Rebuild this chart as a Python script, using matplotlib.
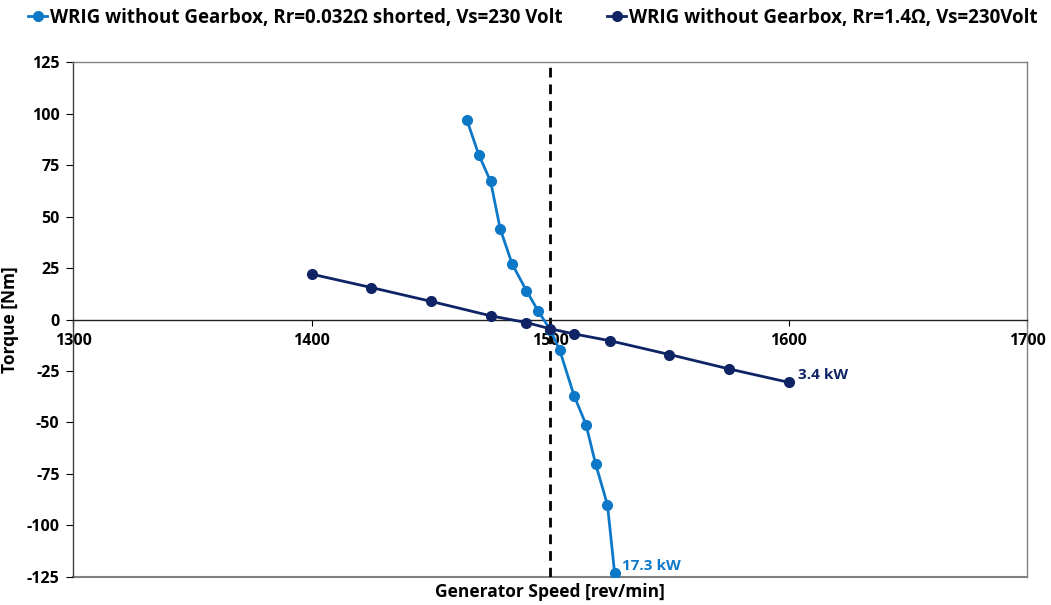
import matplotlib
matplotlib.use("Agg")
import matplotlib.pyplot as plt

plt.rcParams['font.family'] = ['Open Sans', 'DejaVu Sans']
plt.rcParams['font.weight'] = 'bold'
plt.rcParams['axes.unicode_minus'] = False

# Rotor shorted, Rr = 0.032 ohm
speed_short = [1465, 1470, 1475, 1479, 1484, 1490, 1495, 1500, 1504, 1510, 1515, 1519, 1524, 1527]
torque_short = [97, 80, 67, 44, 27, 14, 4, -5, -15, -37, -51, -70, -90, -123]

# External rotor resistance, Rr = 1.4 ohm
speed_res = [1400, 1425, 1450, 1475, 1490, 1500, 1510, 1525, 1550, 1575, 1600]
torque_res = [22, 15.5, 8.8, 1.8, -1.5, -4.5, -7, -10.3, -17, -24, -30.5]

label_short = "WRIG without Gearbox, Rr=0.032\u03a9 shorted, Vs=230 Volt"
label_res = "WRIG without Gearbox, Rr=1.4\u03a9, Vs=230Volt"
power_short = "17.3 kW"
power_res = "3.4 kW"

x_ticks = [1300, 1400, 1500, 1600, 1700]
y_ticks = [125, 100, 75, 50, 25, 0, -25, -50, -75, -100, -125]
sync_speed = 1500

c_short = "#0E78C8"
c_res = "#0F2464"

fig = plt.figure(figsize=(10.51, 6.05), dpi=100)
ax = fig.add_axes([0.0699, 0.0463, 0.9073, 0.8512])

ax.plot(speed_short, torque_short, color=c_short, lw=2, marker='o', ms=7, label=label_short, zorder=3)
ax.plot(speed_res, torque_res, color=c_res, lw=2, marker='o', ms=7, label=label_res, zorder=4)
ax.axvline(sync_speed, color='black', lw=2, ls=(0, (3.5, 2.5)), zorder=2)

ax.set_xlim(1300, 1700)
ax.set_ylim(-125, 125)
ax.set_xticks(x_ticks)
ax.set_yticks(y_ticks)

for s in ['top', 'right', 'left']:
    ax.spines[s].set_color('#808080')
    ax.spines[s].set_linewidth(1)
ax.spines['left'].set_color('#404040')
ax.spines['bottom'].set_position(('data', 0))
ax.spines['bottom'].set_color('#202020')
ax.spines['bottom'].set_linewidth(1)
ax.plot([0, 1], [0, 0], transform=ax.transAxes, color='#808080', lw=1.5, clip_on=False, zorder=1)

ax.tick_params(axis='y', direction='out', length=5, labelsize=11.5, pad=5)
ax.tick_params(axis='x', direction='out', length=4, labelsize=11.5, pad=6)
for lbl in ax.get_xticklabels() + ax.get_yticklabels():
    lbl.set_fontweight('bold')

ax.set_xlabel("Generator Speed [rev/min]", fontsize=12.5, fontweight='bold')
ax.set_ylabel("Torque [Nm]", fontsize=12.5, fontweight='bold')
ax.xaxis.set_label_coords(0.5, -0.012)
ax.xaxis.label.set_va('top')
ax.yaxis.set_label_coords(-0.057, 0.5)

ax.annotate(power_res, (speed_res[-1], torque_res[-1]), xytext=(7, 0), textcoords='offset points',
            color=c_res, fontsize=11, fontweight='bold', va='bottom')
ax.annotate(power_short, (speed_short[-1], torque_short[-1]), xytext=(5, 0), textcoords='offset points',
            color=c_short, fontsize=11, fontweight='bold', va='bottom')

leg = fig.legend(loc='center', bbox_to_anchor=(0.507, 0.971), ncol=2, frameon=False,
                 handlelength=1.0, handletextpad=0.15, columnspacing=2.4,
                 prop={'weight': 'bold', 'size': 13.5})

fig.savefig("out.png", dpi=100)
